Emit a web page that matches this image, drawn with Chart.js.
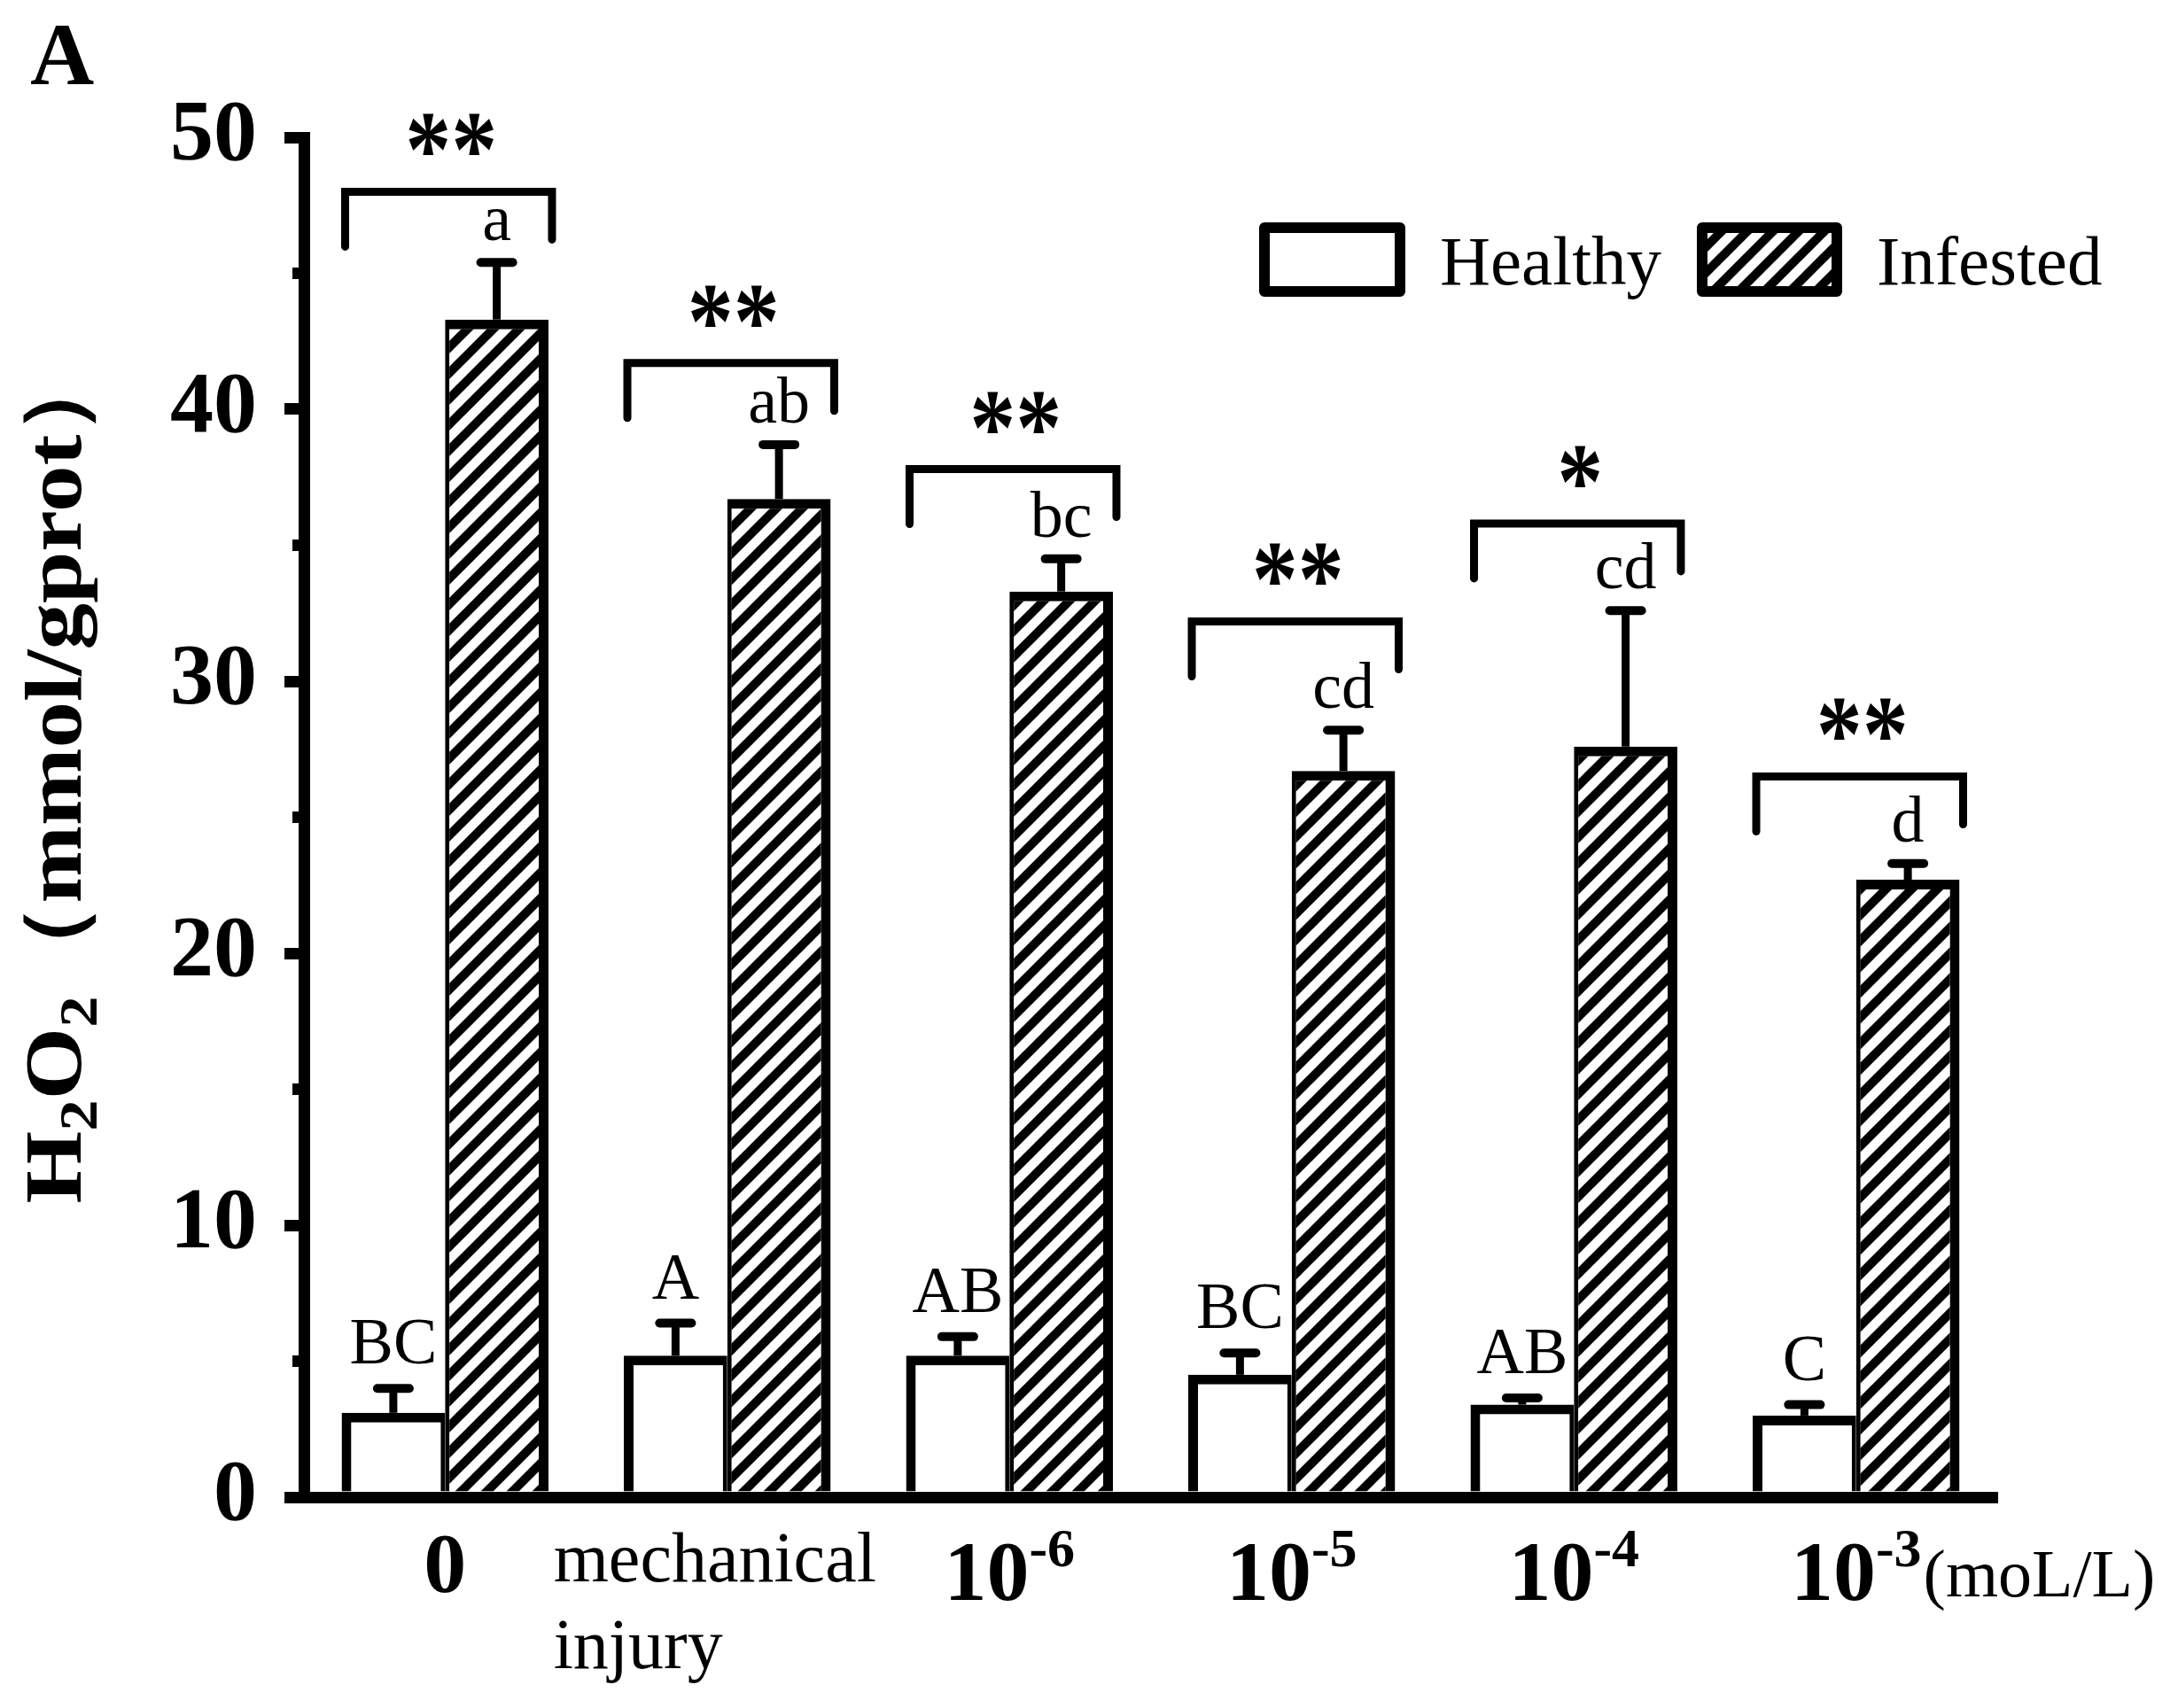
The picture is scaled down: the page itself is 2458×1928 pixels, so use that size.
<!DOCTYPE html>
<html>
<head>
<meta charset="utf-8">
<script src="https://cdn.jsdelivr.net/npm/chart.js@4.4.0/dist/chart.umd.min.js"></script>
<style>
  html, body { margin: 0; padding: 0; background: #fff; }
  canvas { display: block; }
</style>
</head>
<body>
<canvas id="h2o2Chart" width="2458" height="1928"></canvas>
<script>
// categories and tick text
const categories = ["0", "mechanical injury", "10-6", "10-5", "10-4", "10-3"];
const tickMain = ["0", "mechanical", "10", "10", "10", "10"];
const tickSup = ["", "", "-6", "-5", "-4", "-3"];
const tickLine2 = ["", "injury", "", "", "", ""];
const unitText = "(moL/L)";

// values
const healthy = [3.1, 5.2, 5.2, 4.5, 3.4, 3.0];
const healthyErr = [0.9, 1.2, 0.7, 0.8, 0.25, 0.4];
const infested = [43.3, 36.7, 33.3, 26.7, 27.6, 22.7];
const infestedErr = [2.1, 2.0, 1.2, 1.5, 5.0, 0.6];

// annotations
const healthyLetters = ["BC", "A", "AB", "BC", "AB", "C"];
const infestedLetters = ["a", "ab", "bc", "cd", "cd", "d"];
const stars = ["**", "**", "**", "**", "*", "**"];
const bracketLevel = [48.0, 41.7, 37.8, 32.2, 35.8, 26.5];

const serif = '"Liberation Serif", "Times New Roman", serif';
function font(size, bold) {
    return (bold ? "bold " : "") + size + "px " + serif;
}

function makeHatch() {
    const s = 29;
    const c = document.createElement("canvas");
    c.width = s;
    c.height = s;
    const g = c.getContext("2d");
    g.fillStyle = "#fff";
    g.fillRect(0, 0, s, s);
    g.strokeStyle = "#000";
    g.lineWidth = 10;
    g.beginPath();
    g.moveTo(-s / 2, s / 2); g.lineTo(s / 2, -s / 2);
    g.moveTo(0, s); g.lineTo(s, 0);
    g.moveTo(s / 2, s * 1.5); g.lineTo(s * 1.5, s / 2);
    g.stroke();
    return g.createPattern(c, "repeat");
}

const hatch = makeHatch();

function line(ctx, x1, y1, x2, y2) {
    ctx.beginPath();
    ctx.moveTo(x1, y1);
    ctx.lineTo(x2, y2);
    ctx.stroke();
}

const decor = {
    id: "decor",
    beforeDraw(chart) {
        const ctx = chart.ctx;
        ctx.save();
        ctx.fillStyle = "#fff";
        ctx.fillRect(0, 0, chart.width, chart.height);
        ctx.restore();
    },
    afterDraw(chart) {
        const ctx = chart.ctx;
        const xs = chart.scales.x;
        const ys = chart.scales.y;
        const area = chart.chartArea;
        ctx.save();
        ctx.fillStyle = "#000";
        ctx.strokeStyle = "#000";

        // minor ticks
        for (let v = 5; v < 50; v += 10) {
            const y = ys.getPixelForValue(v);
            ctx.fillRect(area.left - 13, y - 6.5, 13, 13);
        }

        // error bars and letters
        const sets = [
            [healthy, healthyErr, healthyLetters, 28],
            [infested, infestedErr, infestedLetters, 25]
        ];
        sets.forEach((s, d) => {
            chart.getDatasetMeta(d).data.forEach((bar, i) => {
                const yTop = ys.getPixelForValue(s[0][i]);
                const yErr = ys.getPixelForValue(s[0][i] + s[1][i]);
                ctx.lineCap = "butt";
                ctx.lineWidth = 9;
                line(ctx, bar.x, yTop, bar.x, yErr);
                ctx.lineCap = "round";
                ctx.lineWidth = 10;
                line(ctx, bar.x - 18, yErr, bar.x + 18, yErr);
                ctx.font = font(74, false);
                ctx.textAlign = "center";
                ctx.textBaseline = "alphabetic";
                ctx.fillText(s[2][i], bar.x, yErr - s[3]);
            });
        });

        // significance brackets
        const hBars = chart.getDatasetMeta(0).data;
        const iBars = chart.getDatasetMeta(1).data;
        categories.forEach((c, i) => {
            const left = hBars[i].x - hBars[i].width / 2 + 4;
            const right = iBars[i].x + iBars[i].width / 2 + 4;
            const y = ys.getPixelForValue(bracketLevel[i]);
            ctx.lineWidth = 9;
            ctx.lineCap = "round";
            ctx.lineJoin = "miter";
            ctx.beginPath();
            ctx.moveTo(left, y + 62);
            ctx.lineTo(left, y);
            ctx.lineTo(right, y);
            ctx.lineTo(right, y + 54);
            ctx.stroke();
            ctx.save();
            ctx.translate((left + right) / 2 + 3, y - 6);
            ctx.scale(1.04, 1.22);
            ctx.font = font(100, true);
            ctx.textAlign = "center";
            ctx.fillText(stars[i], 0, 0);
            ctx.restore();
        });

        // x tick labels
        categories.forEach((c, i) => {
            const cx = xs.getPixelForValue(i);
            if (tickLine2[i]) {
                ctx.font = font(80, false);
                ctx.textAlign = "left";
                const w = ctx.measureText(tickMain[i]).width;
                const x0 = cx - w / 2 - 14;
                ctx.fillText(tickMain[i], x0, 1785);
                ctx.fillText(tickLine2[i], x0, 1883);
            } else if (!tickSup[i]) {
                ctx.font = font(96, true);
                ctx.textAlign = "center";
                ctx.fillText(tickMain[i], cx, 1797);
            } else {
                ctx.font = font(96, true);
                const wb = ctx.measureText(tickMain[i]).width;
                ctx.font = font(62, true);
                const ws = ctx.measureText(tickSup[i]).width;
                const x0 = cx - (wb + ws) / 2;
                ctx.textAlign = "left";
                ctx.font = font(96, true);
                ctx.fillText(tickMain[i], x0, 1806);
                ctx.font = font(62, true);
                ctx.fillText(tickSup[i], x0 + wb, 1768);
                if (i === categories.length - 1) {
                    ctx.font = font(76, false);
                    ctx.fillText(unitText, x0 + wb + ws + 2, 1802);
                }
            }
        });

        // legend
        ctx.lineWidth = 12;
        ctx.lineJoin = "round";
        ctx.fillStyle = "#fff";
        ctx.fillRect(1427, 257, 153, 72);
        ctx.strokeRect(1427, 257, 153, 72);
        ctx.fillStyle = hatch;
        ctx.fillRect(1921, 257, 152, 72);
        ctx.strokeRect(1921, 257, 152, 72);
        ctx.fillStyle = "#000";
        ctx.font = font(79, false);
        ctx.textAlign = "left";
        ctx.fillText("Healthy", 1625, 321);
        ctx.fillText("Infested", 2118, 321);

        // panel letter
        ctx.font = font(100, true);
        ctx.fillText("A", 34, 95);

        // y axis title, rotated
        const pieces = [
            ["H", 92, 0], ["2", 62, 18], ["O", 92, 0], ["2", 62, 18],
            ["\uFF08mmol/gprot\uFF09", 92, 0]
        ];
        let total = 0;
        pieces.forEach(p => {
            ctx.font = font(p[1], true);
            p.push(ctx.measureText(p[0]).width);
            total += p[3];
        });
        const k = 973 / total;
        ctx.translate(91, 872);
        ctx.rotate(-Math.PI / 2);
        ctx.scale(k, 1);
        let x = -total / 2;
        pieces.forEach(p => {
            ctx.font = font(p[1], true);
            ctx.fillText(p[0], x, p[2]);
            x += p[3];
        });

        ctx.restore();
    }
};

const ctx = document.getElementById("h2o2Chart").getContext("2d");

new Chart(ctx, {
    type: "bar",
    data: {
        labels: categories,
        datasets: [
            {
                label: "Healthy",
                data: healthy,
                backgroundColor: "#fff",
                borderColor: "#000",
                borderWidth: { top: 11, left: 11, right: 5, bottom: 0 },
                categoryPercentage: 0.733,
                barPercentage: 1.0
            },
            {
                label: "Infested",
                data: infested,
                backgroundColor: hatch,
                borderColor: "#000",
                borderWidth: { top: 11, left: 5, right: 11, bottom: 0 },
                categoryPercentage: 0.733,
                barPercentage: 1.0
            }
        ]
    },
    options: {
        responsive: false,
        animation: false,
        devicePixelRatio: 1,
        layout: { padding: { left: 0, right: 204, top: 155, bottom: 0 } },
        plugins: {
            legend: { display: false },
            tooltip: { enabled: false }
        },
        scales: {
            x: {
                grid: { display: false },
                border: { display: true, width: 13, color: "#000", z: 1 },
                ticks: { display: false },
                afterFit: s => { s.height = 238; }
            },
            y: {
                min: 0,
                max: 50,
                ticks: {
                    stepSize: 10,
                    color: "#000",
                    padding: 31,
                    font: { family: serif, size: 98, weight: "bold" }
                },
                grid: {
                    drawOnChartArea: false,
                    drawTicks: true,
                    tickLength: 22,
                    tickWidth: 13,
                    tickColor: "#000",
                    color: "#000",
                    lineWidth: 13
                },
                border: { display: true, width: 13, color: "#000", z: 1 },
                afterFit: s => { s.width = 343; }
            }
        }
    },
    plugins: [decor]
});
</script>
</body>
</html>
